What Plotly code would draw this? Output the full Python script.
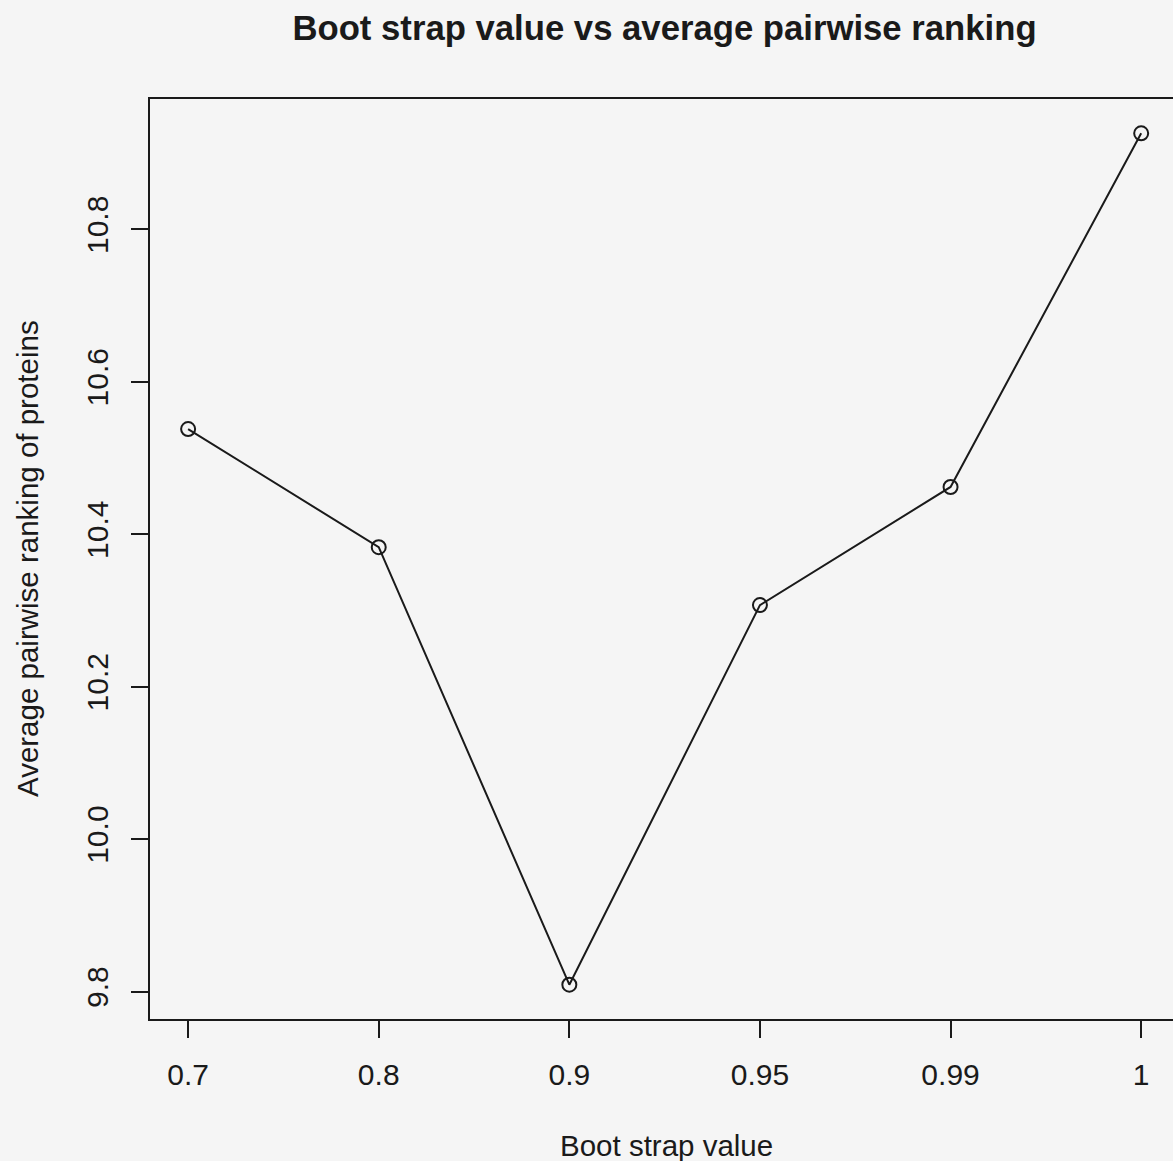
import plotly.graph_objects as go

# Bootstrap thresholds (evenly spaced categories) and the average pairwise ranking
bootstrap = ["0.7", "0.8", "0.9", "0.95", "0.99", "1"]
avg_ranking = [10.538, 10.383, 9.809, 10.307, 10.462, 10.926]
y_ticks = [9.8, 10.0, 10.2, 10.4, 10.6, 10.8]

W, H = 1173, 1161
L, R, T, B = 150, 0, 99, 142
FONT = "Liberation Sans, Arial, Helvetica, sans-serif"
INK = "#1a1a1a"
TICK_SIZE = 30
LABEL_SIZE = 29.5

fig = go.Figure(
    go.Scatter(
        x=bootstrap,
        y=avg_ranking,
        mode="lines+markers",
        line=dict(color=INK, width=2),
        marker=dict(symbol="circle-open", size=14, color=INK, line=dict(width=2, color=INK)),
        hoverinfo="x+y",
    )
)

fig.update_layout(
    width=W,
    height=H,
    margin=dict(l=L, r=R, t=T, b=B),
    paper_bgcolor="#f5f5f5",
    plot_bgcolor="#f5f5f5",
    showlegend=False,
    font=dict(family=FONT, color=INK, size=LABEL_SIZE),
    title=dict(
        text="<b>Boot strap value vs average pairwise ranking</b>",
        x=664.5 / W,
        xref="container",
        xanchor="center",
        y=1 - 28 / H,
        yref="container",
        yanchor="middle",
        font=dict(family=FONT, size=34.7, color=INK),
    ),
)

fig.update_xaxes(
    type="category",
    range=[-0.2, 5.167],
    showgrid=False,
    zeroline=False,
    showline=True,
    linecolor=INK,
    linewidth=1.9,
    mirror=True,
    ticks="outside",
    ticklen=17,
    tickwidth=1.9,
    tickcolor=INK,
    ticklabelstandoff=11,
    tickfont=dict(size=TICK_SIZE, family=FONT, color=INK),
)

fig.update_yaxes(
    range=[9.764, 10.971],
    tickvals=y_ticks,
    tickformat=".1f",
    tickangle=-90,
    showgrid=False,
    zeroline=False,
    showline=True,
    linecolor=INK,
    linewidth=1.9,
    ticks="outside",
    ticklen=17,
    tickwidth=1.9,
    tickcolor=INK,
    ticklabelstandoff=11,
    tickfont=dict(size=TICK_SIZE, family=FONT, color=INK),
)

# Axis titles placed in pixel terms below / left of the plotting region
plot_w = W - L - R
plot_h = H - T - B
fig.add_annotation(
    text="Boot strap value",
    xref="paper", yref="paper",
    x=(666 - L) / plot_w,
    y=-(1145 - (H - B)) / plot_h,
    xanchor="center", yanchor="middle",
    showarrow=False,
    font=dict(size=LABEL_SIZE, family=FONT, color=INK),
)
fig.add_annotation(
    text="Average pairwise ranking of proteins",
    xref="paper", yref="paper",
    x=-(L - 27) / plot_w,
    y=0.5,
    xanchor="center", yanchor="middle",
    textangle=-90,
    showarrow=False,
    font=dict(size=LABEL_SIZE, family=FONT, color=INK),
)

fig.write_html("out.html")
